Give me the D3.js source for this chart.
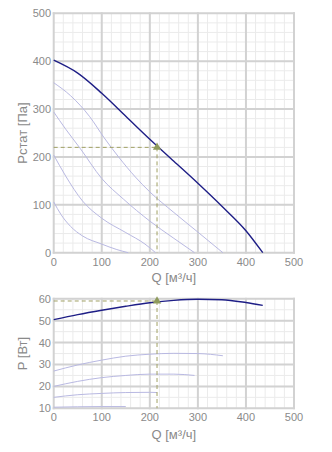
<!DOCTYPE html>
<html><head><meta charset="utf-8">
<script src="https://cdn.jsdelivr.net/npm/d3@7"></script>
<style>html,body{margin:0;padding:0;background:#fff}svg{display:block}</style>
</head><body>
<svg id="c" width="332" height="452"></svg>
<script>
// ---- data (top: static pressure, Pa) ----
const qMain  = [0, 50, 100, 150, 200, 250, 300, 350, 400, 435];
const pMain  = [402, 375, 333, 285, 237, 191, 145, 97, 46, 0];
const qC1 = [0, 35, 75, 105, 135, 170, 200, 250, 300, 352];
const pC1 = [355, 328, 284, 240, 200, 158, 127, 84, 43, 0];
const qC2 = [0, 25, 55, 100, 145, 200, 250, 293];
const pC2 = [294, 258, 218, 155, 112, 66, 30, 0];
const qC3 = [0, 25, 60, 100, 150, 190, 212];
const pC3 = [204, 160, 108, 72, 42, 18, 0];
const qC4 = [0, 15, 35, 60, 100, 130, 155];
const pC4 = [106, 80, 55, 35, 18, 7, 0];
// ---- data (bottom: power, W) ----
const qPMain = [0, 50, 100, 150, 200, 250, 300, 350, 400, 435];
const wMain  = [50.5, 52.8, 54.8, 56.6, 58.2, 59.3, 59.8, 59.6, 58.3, 57];
const qB1 = [0, 50, 100, 150, 200, 250, 300, 352];
const wB1 = [27, 29.8, 32, 33.8, 34.7, 35.1, 35, 34];
const qB2 = [0, 50, 100, 150, 200, 250, 293];
const wB2 = [20, 22.3, 24, 25, 25.6, 25.6, 25];
const qB3 = [0, 50, 100, 150, 200, 215];
const wB3 = [15, 16.2, 16.8, 17.2, 17.3, 17.2];
const qB4 = [0, 50, 100, 150];
const wB4 = [10.5, 10.7, 10.8, 10.8];
// operating point
const opQ = 215, opP = 220, opW = 59;
// ticks
const xTicks = [0, 100, 200, 300, 400, 500];
const yTopTicks = [0, 100, 200, 300, 400, 500];
const yBotTicks = [10, 20, 30, 40, 50, 60];
const xTitle = "Q [м³/ч]";
const yTopTitle = "Рстат [Па]";
const yBotTitle = "P [Вт]";

const svg = d3.select("#c");
const FONT = "'Liberation Sans', Arial, sans-serif";
const x = d3.scaleLinear().domain([0, 500]).range([53.7, 294]);

function zip(a, b){ return a.map((v,i)=>[v,b[i]]); }

function panel(y, yTicks, yMinorStep, seriesThin, seriesMain, op, yTitle, xLabY, xTitY){
  const g = svg.append("g");
  const [y0, y1] = y.domain();
  const minorX = d3.range(0, 501, 20);
  const minorY = d3.range(y0, y1 + 0.001, yMinorStep);
  g.selectAll(".mx").data(minorX).join("line")
    .attr("x1", d=>x(d)).attr("x2", d=>x(d)).attr("y1", y(y0)).attr("y2", y(y1))
    .attr("stroke", "#ebebeb").attr("stroke-width", 1);
  g.selectAll(".my").data(minorY).join("line")
    .attr("x1", x(0)).attr("x2", x(500)).attr("y1", d=>y(d)).attr("y2", d=>y(d))
    .attr("stroke", "#ebebeb").attr("stroke-width", 1);
  g.selectAll(".Mx").data(xTicks).join("line")
    .attr("x1", d=>x(d)).attr("x2", d=>x(d)).attr("y1", y(y0)+1).attr("y2", y(y1)-1)
    .attr("stroke", "#d2d2d2").attr("stroke-width", 2);
  g.selectAll(".My").data(yTicks).join("line")
    .attr("x1", x(0)-1).attr("x2", x(500)+1).attr("y1", d=>y(d)).attr("y2", d=>y(d))
    .attr("stroke", "#d2d2d2").attr("stroke-width", 2);

  const line = d3.line().x(d=>x(d[0])).y(d=>y(d[1])).curve(d3.curveMonotoneX);
  seriesThin.forEach(s => g.append("path").attr("d", line(s)).attr("fill","none")
    .attr("stroke", "#b9b9e2").attr("stroke-width", 1));
  g.append("path").attr("d", line(seriesMain)).attr("fill","none")
    .attr("stroke", "#1e1e86").attr("stroke-width", 1.4);

  // operating point dashed guides
  const dash = "#a0a064";
  g.append("line").attr("x1", x(0)).attr("x2", x(op[0])).attr("y1", y(op[1])).attr("y2", y(op[1]))
    .attr("stroke", dash).attr("stroke-width", 1).attr("stroke-dasharray", "4,3");
  g.append("line").attr("x1", x(op[0])).attr("x2", x(op[0])).attr("y1", y(op[1])).attr("y2", y(y0))
    .attr("stroke", dash).attr("stroke-width", 1).attr("stroke-dasharray", "4,3");
  g.append("path").attr("d", d3.symbol().type(d3.symbolTriangle).size(30)())
    .attr("transform", `translate(${x(op[0])},${y(op[1])})`).attr("fill", "#8e9a5c");

  // tick labels
  g.selectAll(".yl").data(yTicks).join("text")
    .attr("x", 51).attr("y", d=>y(d)).attr("dy", "0.36em").attr("text-anchor","end")
    .attr("font-family", FONT).attr("font-size", 11).attr("fill", "#8a8a8a").text(d=>d);
  g.selectAll(".xl").data(xTicks).join("text")
    .attr("x", d=>x(d)).attr("y", xLabY).attr("dy", "0.36em").attr("text-anchor","middle")
    .attr("font-family", FONT).attr("font-size", 11).attr("fill", "#8a8a8a").text(d=>d);
  g.append("text").attr("x", (x(0)+x(500))/2).attr("y", xTitY).attr("dy","0.36em")
    .attr("text-anchor","middle").attr("font-family", FONT).attr("font-size", 13)
    .attr("fill", "#8a8a8a").text(xTitle);
  g.append("text").attr("transform", `translate(22,${(y(y0)+y(y1))/2}) rotate(-90)`)
    .attr("dy","0.36em").attr("text-anchor","middle").attr("font-family", FONT)
    .attr("font-size", 13).attr("fill", "#8a8a8a").text(yTitle);
}

const yTop = d3.scaleLinear().domain([0, 500]).range([252.7, 13.3]);
const yBot = d3.scaleLinear().domain([10, 60]).range([408.3, 298.8]);

panel(yTop, yTopTicks, 20,
  [zip(qC1,pC1), zip(qC2,pC2), zip(qC3,pC3), zip(qC4,pC4)],
  zip(qMain,pMain), [opQ, opP], yTopTitle, 262, 277);
panel(yBot, yBotTicks, 5,
  [zip(qB1,wB1), zip(qB2,wB2), zip(qB3,wB3), zip(qB4,wB4)],
  zip(qPMain,wMain), [opQ, opW], yBotTitle, 417, 434);
</script>
</body></html>
